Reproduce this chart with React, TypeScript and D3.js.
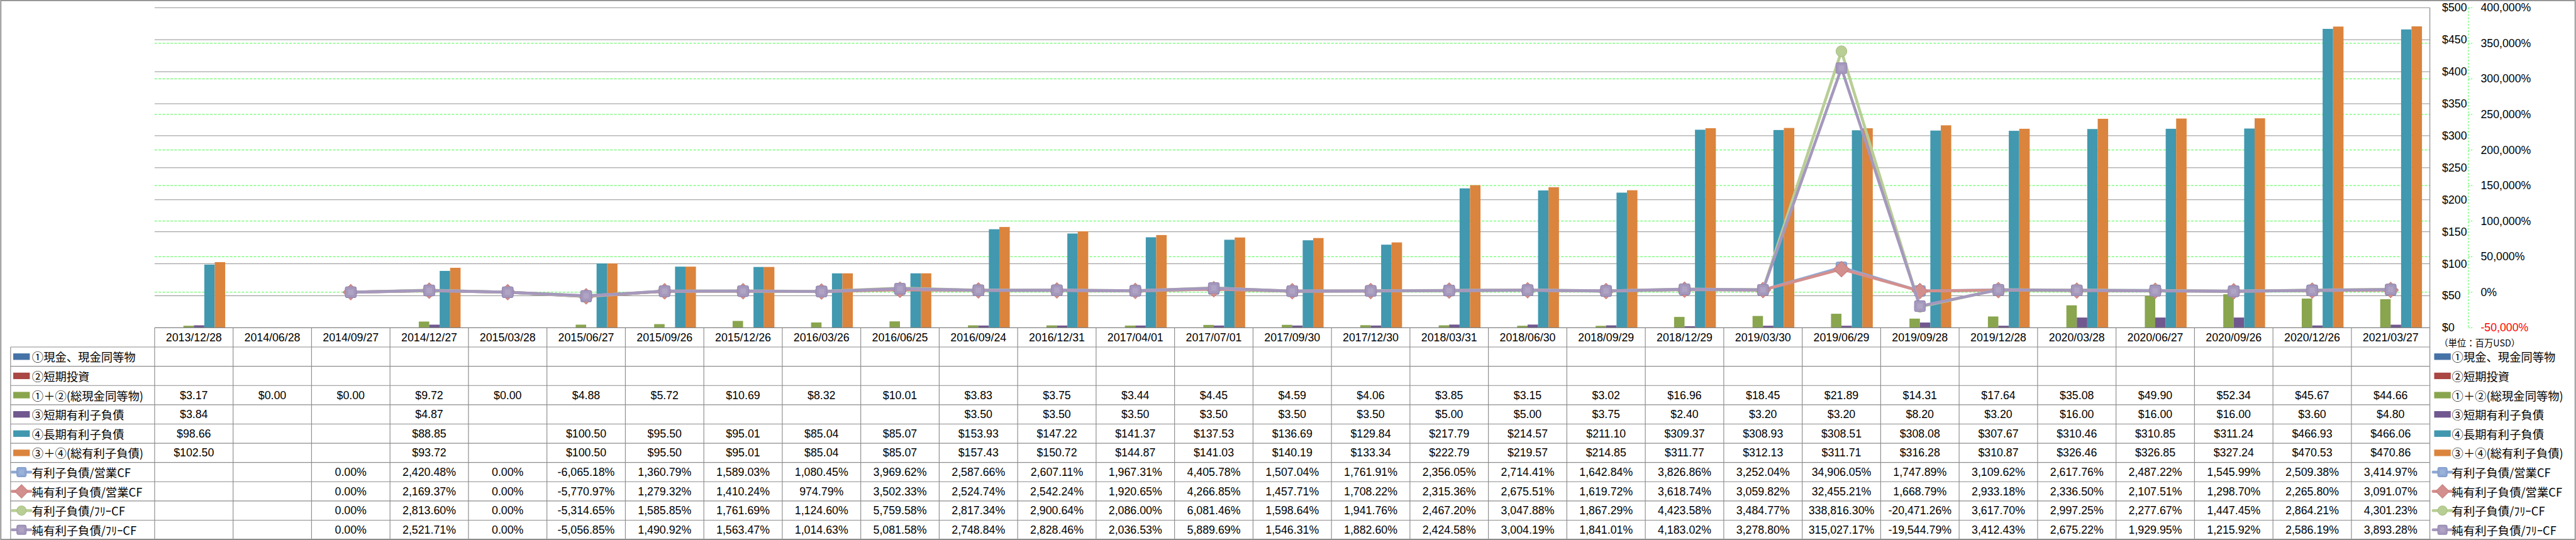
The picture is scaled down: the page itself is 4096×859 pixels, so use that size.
import * as d3 from 'd3';

// source size of the reference; the svg viewBox scales it down to the window
const W = 7151;
const H = 1500;

const dates = [
  '2013/12/28', '2014/06/28', '2014/09/27', '2014/12/27', '2015/03/28', '2015/06/27', '2015/09/26',
  '2015/12/26', '2016/03/26', '2016/06/25', '2016/09/24', '2016/12/31', '2017/04/01', '2017/07/01',
  '2017/09/30', '2017/12/30', '2018/03/31', '2018/06/30', '2018/09/29', '2018/12/29', '2019/03/30',
  '2019/06/29', '2019/09/28', '2019/12/28', '2020/03/28', '2020/06/27', '2020/09/26', '2020/12/26',
  '2021/03/27',
];

type V = number | null;
const _ = null;

// 百万USD
const cash: V[] = dates.map(() => null);
const shortInv: V[] = dates.map(() => null);
const totalCash: V[] = [3.17, 0, 0, 9.72, 0, 4.88, 5.72, 10.69, 8.32, 10.01, 3.83, 3.75, 3.44, 4.45, 4.59, 4.06, 3.85, 3.15, 3.02, 16.96, 18.45, 21.89, 14.31, 17.64, 35.08, 49.9, 52.34, 45.67, 44.66];
const shortDebt: V[] = [3.84, _, _, 4.87, _, _, _, _, _, _, 3.5, 3.5, 3.5, 3.5, 3.5, 3.5, 5.0, 5.0, 3.75, 2.4, 3.2, 3.2, 8.2, 3.2, 16.0, 16.0, 16.0, 3.6, 4.8];
const longDebt: V[] = [98.66, _, _, 88.85, _, 100.5, 95.5, 95.01, 85.04, 85.07, 153.93, 147.22, 141.37, 137.53, 136.69, 129.84, 217.79, 214.57, 211.1, 309.37, 308.93, 308.51, 308.08, 307.67, 310.46, 310.85, 311.24, 466.93, 466.06];
const totalDebt: V[] = [102.5, _, _, 93.72, _, 100.5, 95.5, 95.01, 85.04, 85.07, 157.43, 150.72, 144.87, 141.03, 140.19, 133.34, 222.79, 219.57, 214.85, 311.77, 312.13, 311.71, 316.28, 310.87, 326.46, 326.85, 327.24, 470.53, 470.86];

// %
const debtOcf: V[] = [_, _, 0, 2420.48, 0, -6065.18, 1360.79, 1589.03, 1080.45, 3969.62, 2587.66, 2607.11, 1967.31, 4405.78, 1507.04, 1761.91, 2356.05, 2714.41, 1642.84, 3826.86, 3252.04, 34906.05, 1747.89, 3109.62, 2617.76, 2487.22, 1545.99, 2509.38, 3414.97];
const netDebtOcf: V[] = [_, _, 0, 2169.37, 0, -5770.97, 1279.32, 1410.24, 974.79, 3502.33, 2524.74, 2542.24, 1920.65, 4266.85, 1457.71, 1708.22, 2315.36, 2675.51, 1619.72, 3618.74, 3059.82, 32455.21, 1668.79, 2933.18, 2336.5, 2107.51, 1298.7, 2265.8, 3091.07];
const debtFcf: V[] = [_, _, 0, 2813.6, 0, -5314.65, 1585.85, 1761.69, 1124.6, 5759.58, 2817.34, 2900.64, 2086.0, 6081.46, 1598.64, 1941.76, 2467.2, 3047.88, 1867.29, 4423.58, 3484.77, 338816.3, -20471.26, 3617.7, 2997.25, 2277.67, 1447.45, 2864.21, 4301.23];
const netDebtFcf: V[] = [_, _, 0, 2521.71, 0, -5056.85, 1490.92, 1563.47, 1014.63, 5081.58, 2748.84, 2828.46, 2036.53, 5889.69, 1546.31, 1882.6, 2424.58, 3004.19, 1841.01, 4183.02, 3278.8, 315027.17, -19544.79, 3412.43, 2675.22, 1929.95, 1215.92, 2586.19, 3893.28];

const leftTicks = d3.range(0, 501, 50);
const rightTicks = d3.range(-50000, 400001, 50000);

const barSeries = [
  { name: '①現金、現金同等物', values: cash, color: '#4572A7' },
  { name: '②短期投資', values: shortInv, color: '#AA4643' },
  { name: '①＋②(総現金同等物)', values: totalCash, color: '#89A54E' },
  { name: '③短期有利子負債', values: shortDebt, color: '#71588F' },
  { name: '④長期有利子負債', values: longDebt, color: '#4198AF' },
  { name: '③＋④(総有利子負債)', values: totalDebt, color: '#DB843D' },
];

const lineSeries = [
  { name: '有利子負債/営業CF', values: debtOcf, color: '#8FA9D4', dark: '#7F99C6', shape: 'square' },
  { name: '純有利子負債/営業CF', values: netDebtOcf, color: '#D38F8D', dark: '#C77F7D', shape: 'diamond' },
  { name: '有利子負債/ﾌﾘｰCF', values: debtFcf, color: '#B8CE95', dark: '#A9C085', shape: 'circle' },
  { name: '純有利子負債/ﾌﾘｰCF', values: netDebtFcf, color: '#A598BD', dark: '#9688B0', shape: 'square' },
];

const plot = { left: 428.6, right: 6746, top: 21.4, bottom: 910.5 };
const rowH = 53.45;
const tableLeft = 28.7;
const rightLegendX = 6755;

const numFont = "'Liberation Sans', Arial, sans-serif";
const jpFont = "'Noto Sans CJK JP', 'Noto Sans', sans-serif";

const fmtMoney = (v: number) => '$' + d3.format(',.2f')(v);
const fmtPct = (v: number) => (v < 0 ? '-' : '') + d3.format(',.2f')(Math.abs(v)) + '%';
const fmtAxisPct = (v: number) => (v < 0 ? '-' : '') + d3.format(',')(Math.abs(v)) + '%';

const Marker = ({ shape, x, y, size, fill, stroke }: { shape: string; x: number; y: number; size: number; fill: string; stroke: string }) => {
  if (shape === 'circle') return <circle cx={x} cy={y} r={size / 2} fill={fill} stroke={stroke} strokeWidth={2} />;
  if (shape === 'diamond') {
    const r = size * 0.72;
    return <path d={`M${x},${y - r}L${x + r},${y}L${x},${y + r}L${x - r},${y}Z`} fill={fill} stroke={stroke} strokeWidth={2} strokeLinejoin="round" />;
  }
  return (
    <g>
      <rect x={x - size / 2} y={y - size / 2} width={size} height={size} rx={5} fill={fill} stroke={stroke} strokeWidth={2} />
      <rect x={x - size / 4} y={y - size / 4} width={size / 2} height={size / 2} fill="#fff" opacity={0.12} />
    </g>
  );
};

const LegendKey = ({ x, y, item, kind }: { x: number; y: number; item: any; kind: 'bar' | 'line' }) => {
  if (kind === 'bar') return <rect x={x + 3} y={y - 9} width={46} height={18} fill={item.color} />;
  return (
    <g>
      <line x1={x} x2={x + 52} y1={y} y2={y} stroke={item.color} strokeWidth={8} strokeLinecap="round" />
      <Marker shape={item.shape} x={x + 26} y={y} size={26} fill={item.color} stroke={item.dark} />
    </g>
  );
};

export default function App() {
  const x = d3.scaleBand<string>().domain(dates).range([plot.left, plot.right]).padding(0);
  const bw = x.bandwidth();
  const xInner = d3
    .scaleBand<number>()
    .domain(d3.range(barSeries.length))
    .range([0, bw])
    .paddingInner(0)
    .paddingOuter(0.756);
  const yL = d3.scaleLinear().domain([0, 500]).range([plot.bottom, plot.top]);
  const yR = d3.scaleLinear().domain([-50000, 400000]).range([plot.bottom, plot.top]);
  const cx = (i: number) => (x(dates[i]) as number) + bw / 2;

  const line = d3
    .line<V>()
    .defined((v) => v != null)
    .x((_v, i) => cx(i))
    .y((v) => yR(v as number));

  const rows = [
    ...barSeries.map((s) => ({ item: s, kind: 'bar' as const, text: (v: number) => fmtMoney(v) })),
    ...lineSeries.map((s) => ({ item: s, kind: 'line' as const, text: (v: number) => fmtPct(v) })),
  ];
  const tableTop = plot.bottom + rowH; // below the date row
  const tableBottom = tableTop + rows.length * rowH;
  const secAxisX = 6853;

  return (
    <div style={{ position: 'absolute', left: 0, top: 0, width: 4096, height: 859, background: '#fff' }}>
      <svg width={4096} height={859} viewBox={`0 0 ${W} ${H}`} style={{ display: 'block' }}>
        <rect x={1.5} y={1.5} width={W - 3} height={H - 3} fill="#fff" stroke="#8a8a8a" strokeWidth={3} />

        {/* primary gridlines */}
        {leftTicks.map((t) => (
          <line key={'g' + t} x1={plot.left} x2={plot.right} y1={yL(t)} y2={yL(t)} stroke="#868686" strokeWidth={1.6} />
        ))}
        {/* secondary gridlines */}
        {rightTicks
          .filter((t) => t > -50000 && t < 400000)
          .map((t) => (
            <line key={'s' + t} x1={plot.left} x2={plot.right} y1={yR(t)} y2={yR(t)} stroke="#00ff00" strokeWidth={1.3} strokeDasharray="7 4" />
          ))}

        {/* bars */}
        {barSeries.map((s, si) =>
          s.values.map((v, i) =>
            v == null || v === 0 ? null : (
              <rect
                key={`b${si}-${i}`}
                x={(x(dates[i]) as number) + (xInner(si) as number)}
                y={yL(v)}
                width={xInner.bandwidth()}
                height={yL(0) - yL(v)}
                fill={s.color}
              />
            )
          )
        )}

        {/* lines + markers */}
        {lineSeries.map((s, si) => (
          <g key={'l' + si}>
            <path d={line(s.values) || ''} fill="none" stroke={s.color} strokeWidth={8} strokeLinejoin="round" strokeLinecap="round" />
            {s.values.map((v, i) =>
              v == null ? null : <Marker key={i} shape={s.shape} x={cx(i)} y={yR(v)} size={30} fill={s.color} stroke={s.dark} />
            )}
          </g>
        ))}

        {/* axes */}
        <line x1={plot.left} x2={plot.right} y1={plot.bottom} y2={plot.bottom} stroke="#868686" strokeWidth={2} />
        <line x1={plot.right} x2={plot.right} y1={plot.top} y2={tableBottom} stroke="#868686" strokeWidth={2} />
        {leftTicks.map((t) => (
          <text key={'lt' + t} x={6780} y={yL(t)} dominantBaseline="central" fontFamily={numFont} fontSize={31} fill="#000">
            {'$' + t}
          </text>
        ))}
        <line x1={secAxisX} x2={secAxisX} y1={plot.top} y2={plot.bottom} stroke="#00ff00" strokeWidth={1.3} strokeDasharray="5 4" />
        {rightTicks.map((t) => (
          <g key={'rt' + t}>
            <line x1={secAxisX} x2={secAxisX + 12} y1={yR(t)} y2={yR(t)} stroke="#00ff00" strokeWidth={1.3} strokeDasharray="4 3" />
            <text x={6887} y={yR(t)} dominantBaseline="central" fontFamily={numFont} fontSize={31} fill={t < 0 ? '#ff0000' : '#000'}>
              {fmtAxisPct(t)}
            </text>
          </g>
        ))}
        <text x={6772} y={950} dominantBaseline="central" fontFamily={jpFont} fontSize={25} fill="#000">
          （単位：百万USD）
        </text>

        {/* data table */}
        {dates.map((d, i) => (
          <line key={'v' + i} x1={x(d) as number} x2={x(d) as number} y1={plot.bottom} y2={tableBottom} stroke="#8c8c8c" strokeWidth={2} />
        ))}
        <line x1={tableLeft} x2={tableLeft} y1={tableTop} y2={tableBottom} stroke="#8c8c8c" strokeWidth={2} />
        {d3.range(rows.length + 1).map((r) => (
          <line key={'h' + r} x1={tableLeft} x2={plot.right} y1={tableTop + r * rowH} y2={tableTop + r * rowH} stroke="#8c8c8c" strokeWidth={r === rows.length ? 4 : 2} />
        ))}
        {dates.map((d, i) => (
          <text key={'d' + i} x={cx(i)} y={plot.bottom + rowH / 2} textAnchor="middle" dominantBaseline="central" fontFamily={numFont} fontSize={31} fill="#000">
            {d}
          </text>
        ))}
        {rows.map((row, r) => {
          const cy = tableTop + r * rowH + rowH / 2;
          return (
            <g key={'r' + r}>
              <LegendKey x={33} y={cy} item={row.item} kind={row.kind} />
              <text x={88} y={cy} dominantBaseline="central" fontFamily={jpFont} fontSize={32} fill="#000">
                {row.item.name}
              </text>
              {row.item.values.map((v: V, i: number) =>
                v == null ? null : (
                  <text key={i} x={cx(i)} y={cy} textAnchor="middle" dominantBaseline="central" fontFamily={numFont} fontSize={31} fill="#000">
                    {row.text(v)}
                  </text>
                )
              )}
              {/* legend on the right */}
              <LegendKey x={rightLegendX} y={cy} item={row.item} kind={row.kind} />
              <text x={rightLegendX + 52} y={cy} dominantBaseline="central" fontFamily={jpFont} fontSize={32} fill="#000">
                {row.item.name}
              </text>
            </g>
          );
        })}
      </svg>
    </div>
  );
}
